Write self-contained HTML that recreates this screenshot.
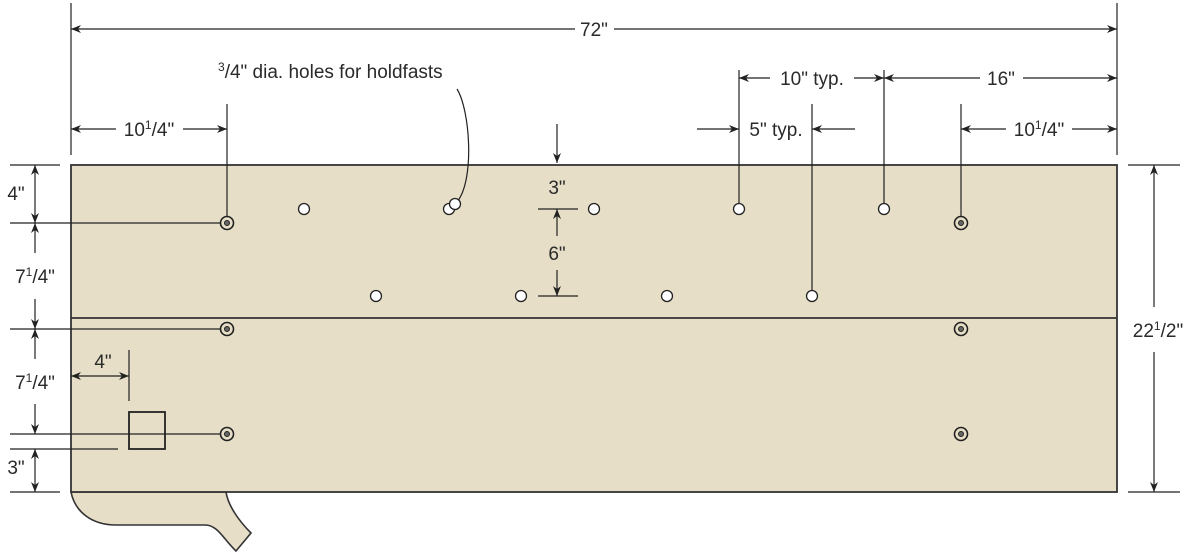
<!DOCTYPE html>
<html><head><meta charset="utf-8"><style>
html,body{margin:0;padding:0;background:#fff;}
svg{display:block;}
text{font-family:"Liberation Sans",sans-serif;font-size:19px;fill:#2a2a2a;}
</style></head><body>
<svg width="1200" height="554" viewBox="0 0 1200 554" xmlns="http://www.w3.org/2000/svg">
<defs>
<marker id="a" viewBox="0 0 10 10" refX="10" refY="5" markerWidth="10" markerHeight="10" markerUnits="userSpaceOnUse" orient="auto-start-reverse">
<path d="M0,1 L10,5 L0,9 L3,5 Z" fill="#222"/></marker>
</defs>
<!-- leg -->
<path d="M71,492 C75,512 92,525 116,525 L205,525 C218,525 224,540 236,551 L251,533 C238,520 228,505 226,492 Z" fill="#e6dec6" stroke="#333" stroke-width="1.6"/>
<!-- board -->
<rect x="71" y="165" width="1046" height="327" fill="#e6dec6" stroke="#333" stroke-width="1.8"/>
<line x1="71" y1="318" x2="1117" y2="318" stroke="#333" stroke-width="1.8"/>
<g stroke="#222" stroke-width="1.2" fill="none">
<!-- top 72 -->
<line x1="71" y1="3" x2="71" y2="155"/>
<line x1="1117" y1="3" x2="1117" y2="155"/>
<line x1="71" y1="29" x2="575" y2="29" marker-start="url(#a)"/>
<line x1="614" y1="29" x2="1117" y2="29" marker-end="url(#a)"/>
<!-- ext lines -->
<line x1="227" y1="104" x2="227" y2="216"/>
<line x1="739" y1="70" x2="739" y2="203"/>
<line x1="884" y1="70" x2="884" y2="203"/>
<line x1="812" y1="104" x2="812" y2="290"/>
<line x1="961" y1="104" x2="961" y2="216"/>
<!-- 10 1/4 left -->
<line x1="71" y1="129" x2="116" y2="129" marker-start="url(#a)"/>
<line x1="183" y1="129" x2="227" y2="129" marker-end="url(#a)"/>
<!-- 10 typ -->
<line x1="739" y1="78" x2="770" y2="78" marker-start="url(#a)"/>
<line x1="854" y1="78" x2="884" y2="78" marker-end="url(#a)"/>
<!-- 16 -->
<line x1="884" y1="78" x2="980" y2="78" marker-start="url(#a)"/>
<line x1="1023" y1="78" x2="1117" y2="78" marker-end="url(#a)"/>
<!-- 5 typ -->
<line x1="697" y1="129" x2="739" y2="129" marker-end="url(#a)"/>
<line x1="855" y1="129" x2="812" y2="129" marker-end="url(#a)"/>
<!-- 10 1/4 right -->
<line x1="961" y1="129" x2="1006" y2="129" marker-start="url(#a)"/>
<line x1="1072" y1="129" x2="1117" y2="129" marker-end="url(#a)"/>
<!-- right 22 1/2 -->
<line x1="1128" y1="165" x2="1180" y2="165"/>
<line x1="1128" y1="492" x2="1180" y2="492"/>
<line x1="1154" y1="165" x2="1154" y2="307" marker-start="url(#a)"/>
<line x1="1154" y1="352" x2="1154" y2="492" marker-end="url(#a)"/>
<!-- left ext -->
<line x1="10" y1="165" x2="60" y2="165"/>
<line x1="10" y1="223" x2="220" y2="223"/>
<line x1="10" y1="329" x2="220" y2="329"/>
<line x1="10" y1="434" x2="220" y2="434"/>
<line x1="10" y1="449" x2="118" y2="449"/>
<line x1="10" y1="492" x2="60" y2="492"/>
<line x1="35" y1="165" x2="35" y2="223" marker-start="url(#a)" marker-end="url(#a)"/>
<line x1="35" y1="223" x2="35" y2="253" marker-start="url(#a)"/>
<line x1="35" y1="299" x2="35" y2="329" marker-end="url(#a)"/>
<line x1="35" y1="329" x2="35" y2="359" marker-start="url(#a)"/>
<line x1="35" y1="404" x2="35" y2="434" marker-end="url(#a)"/>
<line x1="35" y1="449" x2="35" y2="492" marker-start="url(#a)" marker-end="url(#a)"/>
<!-- square -->
<rect x="129" y="412" width="36" height="37" stroke="#222" stroke-width="1.8"/>
<line x1="129" y1="350" x2="129" y2="401"/>
<line x1="71" y1="376" x2="129" y2="376" marker-start="url(#a)" marker-end="url(#a)"/>
<!-- center 3/6 -->
<line x1="557" y1="124" x2="557" y2="163" marker-end="url(#a)"/>
<line x1="538" y1="209" x2="578" y2="209"/>
<line x1="538" y1="296" x2="578" y2="296"/>
<line x1="557" y1="209" x2="557" y2="236" marker-start="url(#a)"/>
<line x1="557" y1="270" x2="557" y2="296" marker-end="url(#a)"/>
<!-- leader -->
<path d="M457,89 C470,110 475,180 457,202"/>
</g>
<!-- holes -->
<g fill="#fff" stroke="#222" stroke-width="1.3">
<circle cx="304" cy="209" r="5.5"/><circle cx="449" cy="209" r="5.5"/><circle cx="455" cy="204" r="5.5"/>
<circle cx="594" cy="209" r="5.5"/><circle cx="739" cy="209" r="5.5"/><circle cx="884" cy="209" r="5.5"/>
<circle cx="376" cy="296" r="5.5"/><circle cx="521" cy="296" r="5.5"/><circle cx="667" cy="296" r="5.5"/><circle cx="812" cy="296" r="5.5"/>
</g>
<g stroke="#222" stroke-width="1.6" fill="none">
<circle cx="227" cy="223" r="6.5"/><circle cx="227" cy="329" r="6.5"/><circle cx="227" cy="434" r="6.5"/>
<circle cx="961" cy="223" r="6.5"/><circle cx="961" cy="329" r="6.5"/><circle cx="961" cy="434" r="6.5"/>
</g>
<g fill="#666" stroke="#222" stroke-width="1">
<circle cx="227" cy="223" r="2.5"/><circle cx="227" cy="329" r="2.5"/><circle cx="227" cy="434" r="2.5"/>
<circle cx="961" cy="223" r="2.5"/><circle cx="961" cy="329" r="2.5"/><circle cx="961" cy="434" r="2.5"/>
</g>
<!-- labels -->
<text x="594" y="36" text-anchor="middle">72"</text>
<text x="218" y="78"><tspan font-size="12" dy="-7">3</tspan><tspan dy="7">/4" dia. holes for holdfasts</tspan></text>
<text x="149" y="136" text-anchor="middle">10<tspan font-size="12" dy="-7">1</tspan><tspan dy="7">/4"</tspan></text>
<text x="812" y="85" text-anchor="middle">10" typ.</text>
<text x="1001" y="85" text-anchor="middle">16"</text>
<text x="776" y="136" text-anchor="middle">5" typ.</text>
<text x="1039" y="136" text-anchor="middle">10<tspan font-size="12" dy="-7">1</tspan><tspan dy="7">/4"</tspan></text>
<text x="1158" y="337" text-anchor="middle">22<tspan font-size="12" dy="-7">1</tspan><tspan dy="7">/2"</tspan></text>
<text x="16" y="200" text-anchor="middle">4"</text>
<text x="35" y="283" text-anchor="middle">7<tspan font-size="12" dy="-7">1</tspan><tspan dy="7">/4"</tspan></text>
<text x="35" y="389" text-anchor="middle">7<tspan font-size="12" dy="-7">1</tspan><tspan dy="7">/4"</tspan></text>
<text x="16" y="474" text-anchor="middle">3"</text>
<text x="103" y="368" text-anchor="middle">4"</text>
<text x="557" y="194" text-anchor="middle">3"</text>
<text x="557" y="260" text-anchor="middle">6"</text>
</svg>
</body></html>
